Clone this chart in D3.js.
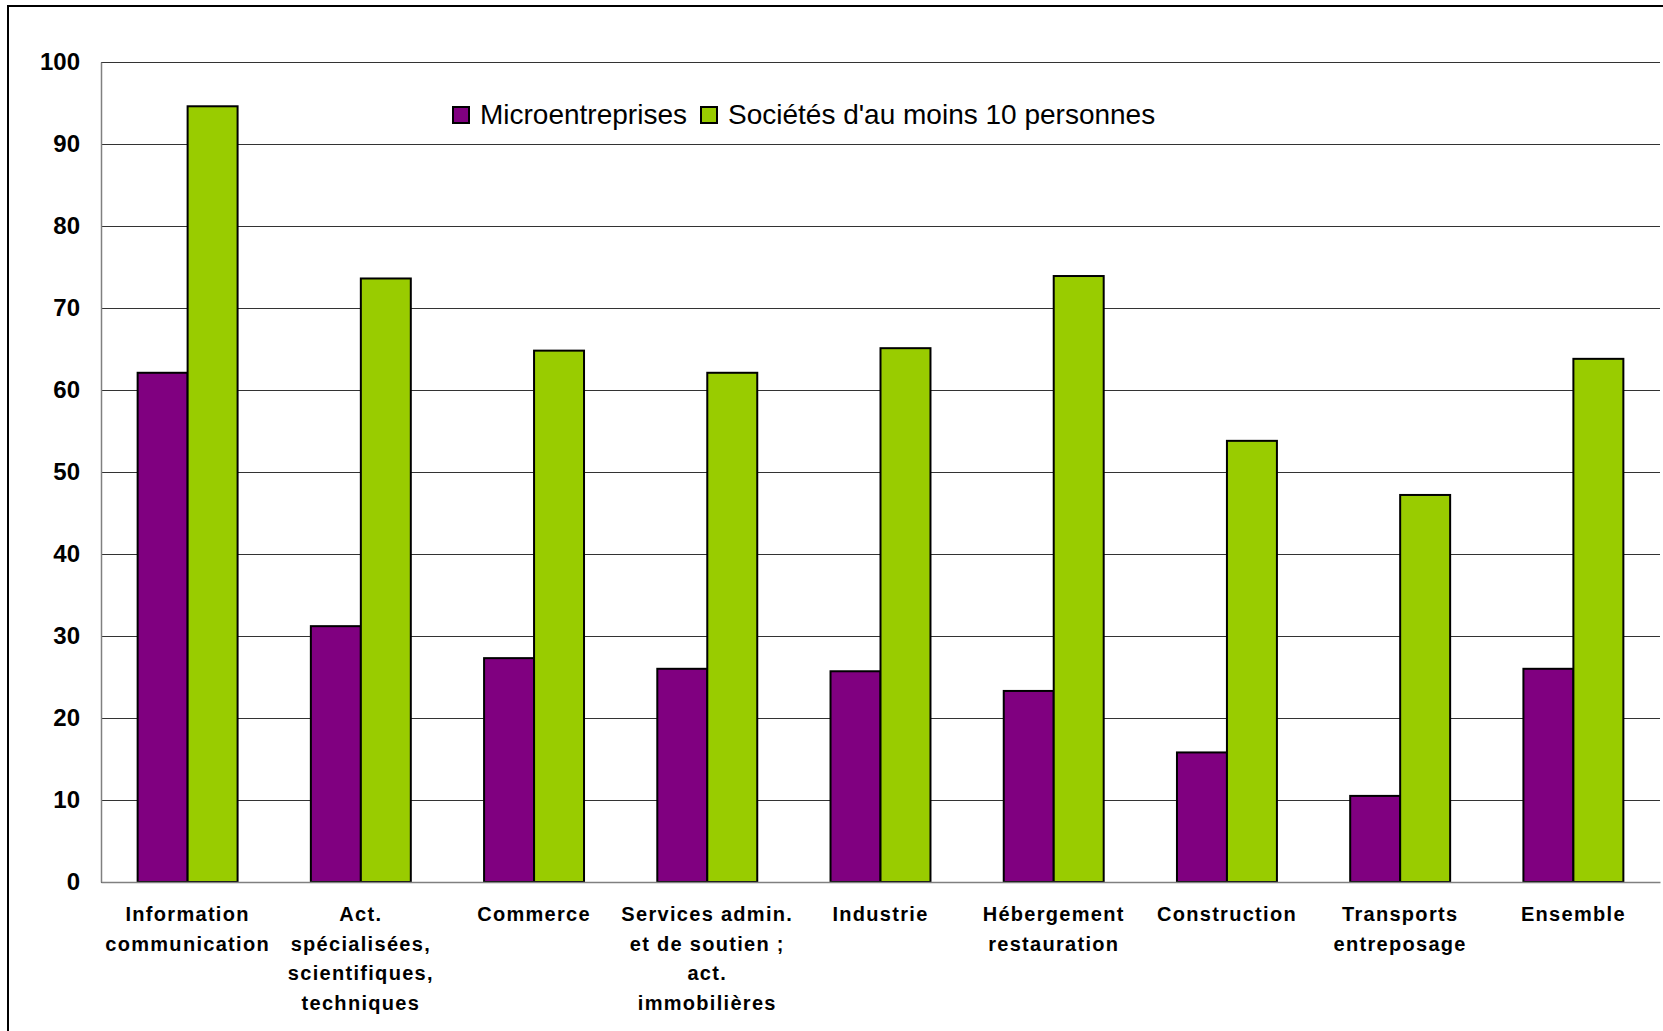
<!DOCTYPE html>
<html lang="fr">
  <head>
    <meta charset="utf-8">
    <title>Microentreprises / sociétés</title>
    <script src="https://d3js.org/d3.v7.min.js" charset="utf-8"></script>
    <style type="text/css">
        body {
            margin: 0;
            background: #fff;
        }
        svg {
            display: block;
            font-family: "Liberation Sans", Arial, sans-serif;
        }
    </style>
  </head>
  <body>
    <script type="text/javascript">
        // données
        var categories = [
            "Information\ncommunication",
            "Act.\nspécialisées,\nscientifiques,\ntechniques",
            "Commerce",
            "Services admin.\net de soutien ;\nact.\nimmobilières",
            "Industrie",
            "Hébergement\nrestauration",
            "Construction",
            "Transports\nentreposage",
            "Ensemble"
        ];
        var micro = [62.1, 31.2, 27.3, 26.0, 25.7, 23.3, 15.8, 10.5, 26.0];
        var societes = [94.6, 73.6, 64.8, 62.1, 65.1, 73.9, 53.8, 47.2, 63.8];
        var seriesNames = ["Microentreprises", "Sociétés d'au moins 10 personnes"];
        var seriesColors = ["#800080", "#99CC00"];
        var yTicks = [0, 10, 20, 30, 40, 50, 60, 70, 80, 90, 100];

        var W = 1663, H = 1031;
        var plot = { left: 101, top: 62, right: 1660, bottom: 882 };

        var svg = d3.select("body").append("svg")
            .attr("width", W)
            .attr("height", H);

        // cadre extérieur
        svg.append("path")
            .attr("d", "M8," + H + "V6H" + W)
            .attr("fill", "none")
            .attr("stroke", "#000")
            .attr("stroke-width", 2);

        var x0 = d3.scaleBand()
            .domain(categories)
            .range([plot.left, plot.right])
            .paddingInner(0.423)
            .paddingOuter(0.2115);
        var x1 = d3.scaleBand()
            .domain([0, 1])
            .range([0, x0.bandwidth()]);
        var y = d3.scaleLinear()
            .domain([0, 100])
            .range([plot.bottom, plot.top]);

        // quadrillage
        svg.append("g")
            .attr("class", "grid")
            .attr("transform", "translate(" + plot.left + ",0)")
            .call(d3.axisLeft(y).tickValues(yTicks).tickSize(-(plot.right - plot.left)).tickFormat(""))
            .call(function (g) {
                g.select(".domain").remove();
                g.selectAll("line").attr("stroke", "#333").attr("stroke-width", 1.2);
            });

        // axe y (étiquettes)
        svg.append("g")
            .attr("transform", "translate(" + plot.left + ",0)")
            .call(d3.axisLeft(y).tickValues(yTicks).tickSize(0).tickPadding(21))
            .call(function (g) {
                g.select(".domain").attr("stroke", "#808080").attr("stroke-width", 1.5);
                g.selectAll("text")
                    .attr("font-family", "'Liberation Sans', Arial, sans-serif")
                    .attr("font-size", 24)
                    .attr("font-weight", "bold")
                    .attr("fill", "#000");
            });

        // barres
        var rows = categories.map(function (c, i) {
            return { cat: c, values: [micro[i], societes[i]] };
        });
        svg.append("g").selectAll("g")
            .data(rows)
            .enter()
            .append("g")
            .attr("transform", function (d) { return "translate(" + x0(d.cat) + ",0)"; })
            .selectAll("rect")
            .data(function (d) { return d.values; })
            .enter()
            .append("rect")
            .attr("x", function (d, j) { return x1(j); })
            .attr("y", function (d) { return y(d); })
            .attr("width", x1.bandwidth())
            .attr("height", function (d) { return y(0) - y(d); })
            .attr("fill", function (d, j) { return seriesColors[j]; })
            .attr("stroke", "#000")
            .attr("stroke-width", 2);

        // axe x
        svg.append("g")
            .attr("transform", "translate(0," + plot.bottom + ")")
            .call(d3.axisBottom(x0).tickSize(0).tickFormat(""))
            .call(function (g) {
                g.select(".domain").attr("stroke", "#808080").attr("stroke-width", 1.5);
                g.selectAll(".tick text")
                    .attr("y", 39)
                    .attr("dy", 0)
                    .attr("font-family", "'Liberation Sans', Arial, sans-serif")
                    .attr("font-size", 20)
                    .attr("font-weight", "bold")
                    .attr("letter-spacing", "1.3px")
                    .attr("fill", "#000")
                    .each(function (d) {
                        var t = d3.select(this);
                        d.split("\n").forEach(function (line, k) {
                            t.append("tspan")
                                .attr("x", 0)
                                .attr("y", 39 + k * 29.5)
                                .text(line);
                        });
                    });
            });

        // légende
        var legend = svg.append("g").attr("transform", "translate(453,107)");
        var legendX = [0, 248];
        seriesNames.forEach(function (name, j) {
            var item = legend.append("g").attr("transform", "translate(" + legendX[j] + ",0)");
            item.append("rect")
                .attr("width", 16)
                .attr("height", 16)
                .attr("fill", seriesColors[j])
                .attr("stroke", "#000")
                .attr("stroke-width", 2);
            item.append("text")
                .attr("x", 27)
                .attr("y", 17)
                .attr("font-family", "'Liberation Sans', Arial, sans-serif")
                .attr("font-size", 28)
                .attr("fill", "#000")
                .text(name);
        });
    </script>
  </body>
</html>
